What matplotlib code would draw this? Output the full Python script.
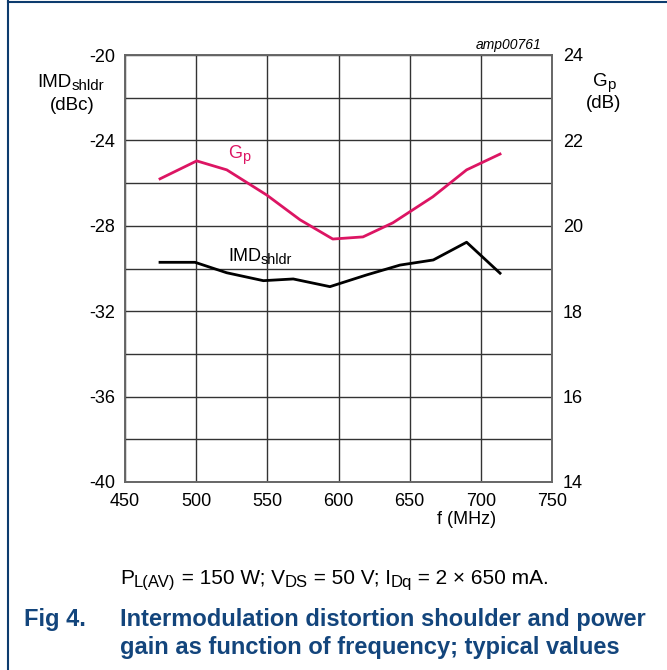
import matplotlib
matplotlib.use("Agg")
import matplotlib.pyplot as plt
from matplotlib.lines import Line2D
from matplotlib.font_manager import FontProperties

plt.rcParams['font.family'] = ['Liberation Sans', 'DejaVu Sans']
plt.rcParams['axes.unicode_minus'] = False

# Data
gp_freq = [474.6, 500.4, 521.5, 549.6, 573.0, 596.0, 617.2, 638.2, 666.3, 690.0, 713.5]
gp_db = [21.10, 21.52, 21.31, 20.72, 20.14, 19.69, 19.74, 20.07, 20.68, 21.31, 21.68]
imd_freq = [474.6, 499.2, 521.5, 547.2, 568.2, 594.0, 619.8, 643.2, 666.6, 690.0, 713.5]
imd_dbc = [-29.71, -29.71, -30.20, -30.57, -30.49, -30.85, -30.30, -29.84, -29.60, -28.77, -30.22]
x_ticks = [450, 500, 550, 600, 650, 700, 750]
left_ticks = [-40, -36, -32, -28, -24, -20]
right_ticks = [14, 16, 18, 20, 22, 24]

GP_COLOR = '#dc1563'
BLUE = '#13457c'
W, H = 667, 670

fig = plt.figure(figsize=(W/100, H/100), dpi=100)
ax = fig.add_axes([125/W, 1-482/H, 427/W, 427/H])

ax.set_xlim(450, 750)
ax.set_ylim(-40, -20)
ax.set_xticks(x_ticks)
ax.set_yticks(left_ticks)
ax.set_yticks(list(range(-40, -19, 2)), minor=True)
ax.grid(True, which='both', color='#333333', linewidth=1.0)
ax.tick_params(axis='both', which='both', length=0, labelsize=13, colors='black')
ax.tick_params(axis='x', pad=8)
ax.tick_params(axis='y', pad=7)
for s in ax.spines.values():
    s.set_color('#666666')
    s.set_linewidth(1.2)

ax.plot(imd_freq, imd_dbc, color='black', linewidth=2.0, zorder=3)

ax2 = ax.twinx()
ax2.set_ylim(14, 24)
ax2.set_yticks(right_ticks)
ax2.tick_params(axis='y', length=0, labelsize=13, pad=8)
for s in ax2.spines.values():
    s.set_color('#666666')
    s.set_linewidth(1.2)
ax2.plot(gp_freq, gp_db, color=GP_COLOR, linewidth=2.0, zorder=3)

renderer = fig.canvas.get_renderer()


def text_width(s, size, weight):
    fp = FontProperties(family=['Liberation Sans'], size=size, weight=weight)
    w1, _, _ = renderer.get_text_width_height_descent('|' + s + '|', fp, False)
    w0, _, _ = renderer.get_text_width_height_descent('||', fp, False)
    return w1 - w0


def rich(x_px, y_px, segs, size, color='black', weight='normal', ha='left',
         sub_scale=0.8, sub_drop=0.16):
    widths = []
    for txt, sub in segs:
        fs = size * sub_scale if sub else size
        widths.append(text_width(txt, fs, weight))
    total = sum(widths)
    x = x_px - (total / 2 if ha == 'center' else 0)
    for (txt, sub), w in zip(segs, widths):
        fs = size * sub_scale if sub else size
        yy = y_px + (size * sub_drop * 100 / 72 if sub else 0)
        fig.text(x / W, 1 - yy / H, txt, fontsize=fs, va='baseline', ha='left',
                 color=color, fontweight=weight)
        x += w


# curve labels
rich(228, 158, [('G', False), ('p', True)], 13, color=GP_COLOR)
rich(228, 261, [('IMD', False), ('shldr', True)], 13)

# axis labels
rich(71, 87, [('IMD', False), ('shldr', True)], 13.5, ha='center')
rich(72.5, 110, [('(dBc)', False)], 13.5, ha='center')
rich(604, 86, [('G', False), ('p', True)], 13.5, ha='center')
rich(604, 108, [('(dB)', False)], 13.5, ha='center')
fig.text(467/W, 1-520/H, 'f (MHz)', fontsize=13, ha='center', va='center')
fig.text(541/W, 1-45/H, 'amp00761', fontsize=10, style='italic', ha='right', va='center')

# caption
rich(120, 584, [('P', False), ('L(AV)', True), (' = 150 W; V', False), ('DS', True),
                (' = 50 V; I', False), ('Dq', True), (' = 2 \u00d7 650 mA.', False)], 15)
fig.text(24/W, 1-626/H, 'Fig 4.', fontsize=17, fontweight='bold', color=BLUE, ha='left', va='baseline')
fig.text(120/W, 1-626/H, 'Intermodulation distortion shoulder and power', fontsize=17,
         fontweight='bold', color=BLUE, ha='left', va='baseline')
fig.text(120/W, 1-654/H, 'gain as function of frequency; typical values', fontsize=17,
         fontweight='bold', color=BLUE, ha='left', va='baseline')

# frame lines
fig.add_artist(Line2D([8/W, 8/W], [0, 1-1/H], transform=fig.transFigure, color='#0d3b6e', linewidth=1.5))
fig.add_artist(Line2D([8/W, 1], [1-1.5/H, 1-1.5/H], transform=fig.transFigure, color='#0d3b6e', linewidth=1.5))

fig.savefig('out.png', dpi=100)
